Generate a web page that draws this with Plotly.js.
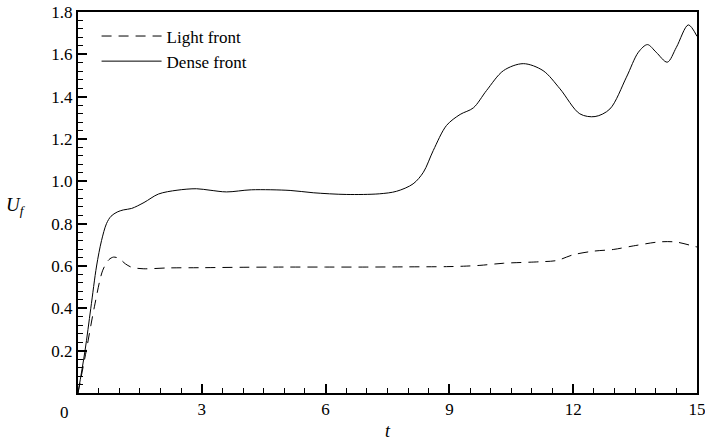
<!DOCTYPE html>
<html>
<head>
<meta charset="utf-8">
<script src="https://cdn.plot.ly/plotly-3.0.1.min.js"></script>
<style>
html,body{margin:0;padding:0;background:#fff;}
#chart{width:705px;height:447px;}
#chart text{font-family:"Liberation Serif","Times New Roman",Times,serif !important;}
</style>
</head>
<body>
<div id="chart"></div>
<script>
// Dense front
var tDense = [0, 0.17, 0.31, 0.45, 0.57, 0.69, 0.8, 0.95, 1.1, 1.3, 1.6, 1.95, 2.4, 2.87, 3.2, 3.6, 4.2, 5.14, 5.7, 6.5, 7.3, 7.72, 8.12, 8.37, 8.61, 8.93, 9.26, 9.58, 9.9, 10.31, 10.79, 11.27, 11.68, 12.16, 12.53, 12.89, 13.29, 13.58, 13.8, 14.01, 14.28, 14.5, 14.79, 15.0];
var uDense = [0, 0.2, 0.4, 0.6, 0.72, 0.8, 0.835, 0.855, 0.865, 0.872, 0.9, 0.94, 0.958, 0.965, 0.958, 0.95, 0.96, 0.957, 0.946, 0.938, 0.941, 0.953, 0.988, 1.043, 1.146, 1.264, 1.316, 1.347, 1.429, 1.523, 1.556, 1.523, 1.437, 1.319, 1.306, 1.342, 1.492, 1.61, 1.646, 1.61, 1.563, 1.633, 1.739, 1.685];
// Light front
var tLight = [0, 0.2, 0.4, 0.6, 0.75, 0.86, 1.0, 1.15, 1.3, 1.58, 2.2, 3, 4, 5, 6, 7, 8, 8.93, 9.34, 9.74, 10.31, 11.19, 11.6, 12.0, 12.49, 12.97, 13.46, 14.1, 14.5, 14.95, 15];
var uLight = [0, 0.2, 0.41, 0.58, 0.63, 0.642, 0.635, 0.61, 0.594, 0.587, 0.591, 0.592, 0.594, 0.595, 0.595, 0.595, 0.596, 0.597, 0.599, 0.603, 0.613, 0.620, 0.626, 0.653, 0.670, 0.678, 0.695, 0.714, 0.713, 0.692, 0.69];

var xTicks = [0, 3, 6, 9, 12, 15];
var xTickText = ['', '3', '6', '9', '12', '15'];
var yTicks = [0.2, 0.4, 0.6, 0.8, 1.0, 1.2, 1.4, 1.6, 1.8];
var yTickText = ['0.2', '0.4', '0.6', '0.8', '1.0', '1.2', '1.4', '1.6', '1.8'];
var seriesNames = ['Light front', 'Dense front'];

var FONT = 'Liberation Serif, Times New Roman, serif';

var traces = [
  {x: tLight, y: uLight, name: seriesNames[0], mode: 'lines',
   line: {color: '#000', width: 1, dash: '10px,7px', shape: 'spline', smoothing: 0.9}},
  {x: tDense, y: uDense, name: seriesNames[1], mode: 'lines',
   line: {color: '#000', width: 1, shape: 'spline', smoothing: 0.9}}
];

var layout = {
  width: 705, height: 447,
  margin: {l: 78, r: 8, t: 12, b: 54},
  paper_bgcolor: '#fff', plot_bgcolor: '#fff',
  font: {family: FONT, size: 17, color: '#000'},
  showlegend: true,
  legend: {x: 0.03, y: 0.983, xanchor: 'left', yanchor: 'top', bgcolor: 'rgba(0,0,0,0)',
           font: {family: FONT, size: 17, color: '#000'}, itemwidth: 60},
  xaxis: {
    range: [0, 15], showgrid: false, zeroline: false,
    showline: true, linecolor: '#000', linewidth: 2, mirror: true,
    tickvals: xTicks, ticktext: xTickText, ticks: 'inside', ticklen: 9, tickwidth: 2, tickcolor: '#000',
    ticklabeloverflow: 'allow',
    minor: {dtick: 0.5, ticks: 'inside', ticklen: 5, tickwidth: 1, tickcolor: '#000', showgrid: false},
    tickfont: {family: FONT, size: 17, color: '#000'},
    title: {text: '<i>t</i>', font: {family: FONT, size: 18, color: '#000'}, standoff: 6}
  },
  yaxis: {
    range: [0, 1.8], showgrid: false, zeroline: false,
    showline: true, linecolor: '#000', linewidth: 2, mirror: true,
    tickvals: yTicks, ticktext: yTickText, ticks: 'inside', ticklen: 9, tickwidth: 2, tickcolor: '#000',
    minor: {dtick: 0.04, ticks: 'inside', ticklen: 5, tickwidth: 1, tickcolor: '#000', showgrid: false},
    tickfont: {family: FONT, size: 17, color: '#000'}
  },
  annotations: [
    {text: '<i>U<sub>f</sub></i>', xref: 'paper', yref: 'paper', x: -0.1, y: 0.49,
     xanchor: 'center', yanchor: 'middle', showarrow: false, font: {family: FONT, size: 19, color: '#000'}},
    {text: '0', xref: 'paper', yref: 'paper', x: -0.022, y: 0, yshift: -8,
     xanchor: 'center', yanchor: 'top', showarrow: false, font: {family: FONT, size: 17, color: '#000'}}
  ]
};

Plotly.newPlot('chart', traces, layout, {displayModeBar: false, staticPlot: true});
</script>
</body>
</html>
